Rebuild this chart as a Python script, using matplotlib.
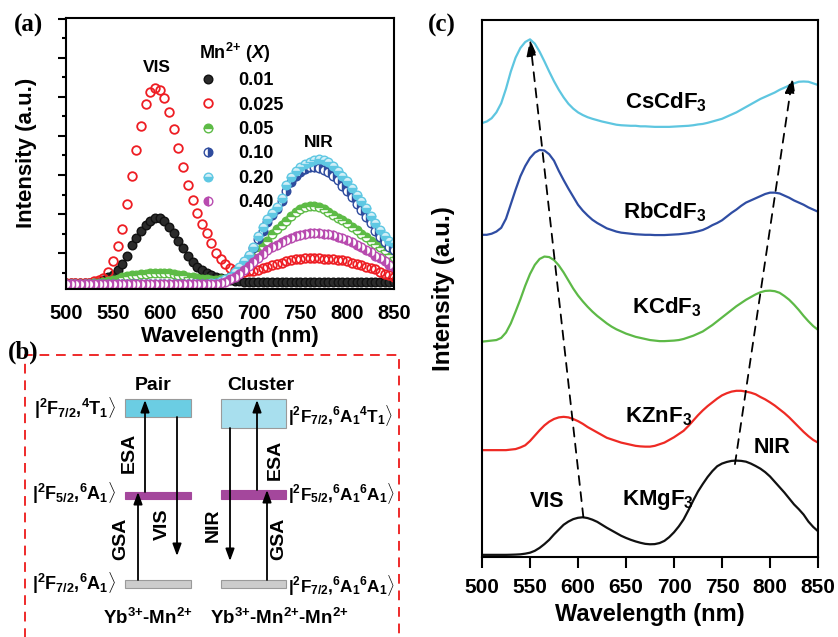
import numpy as np
import matplotlib
matplotlib.use("Agg")
import matplotlib.pyplot as plt
from matplotlib.patches import Rectangle
from matplotlib.ticker import MultipleLocator

plt.rcParams.update({
    "font.family": ["Liberation Sans", "DejaVu Sans"],
    "font.weight": "bold",
    "mathtext.fontset": "custom",
    "mathtext.rm": "Liberation Sans:bold",
    "mathtext.it": "Liberation Sans:italic:bold",
    "mathtext.bf": "Liberation Sans:bold",
    "mathtext.default": "rm",
    "axes.linewidth": 1.5,
})

# ---------------- data: panel (a), Mn2+ concentration series ----------------
wavelength = np.arange(500, 851, 5)

mn_labels = ["0.01", "0.025", "0.05", "0.10", "0.20", "0.40"]

int_001 = [0.23, 0.23, 0.23, 0.23, 0.23, 0.24,
           0.25, 0.27, 0.31, 0.38, 0.45, 0.58, 0.72, 0.93, 1.20, 1.39,
           1.57, 1.72, 1.83, 1.90, 1.91, 1.82, 1.68, 1.51, 1.31, 1.12,
           0.93, 0.77, 0.65, 0.57, 0.49, 0.43, 0.39, 0.36, 0.33, 0.31,
           0.29, 0.28, 0.27, 0.27, 0.27, 0.27, 0.27, 0.27, 0.27, 0.27,
           0.27, 0.27, 0.27, 0.27, 0.26, 0.27, 0.27, 0.27, 0.27, 0.27,
           0.27, 0.27, 0.27, 0.27, 0.26, 0.27, 0.27, 0.27, 0.27, 0.27,
           0.27, 0.27, 0.27, 0.27, 0.27]

int_0025 = [0.23, 0.23, 0.23, 0.23, 0.24, 0.25,
            0.28, 0.31, 0.36, 0.52, 0.80, 1.18, 1.62, 2.25, 2.97, 3.64,
            4.25, 4.82, 5.12, 5.22, 5.17, 4.97, 4.60, 4.17, 3.70, 3.20,
            2.75, 2.37, 2.02, 1.75, 1.52, 1.26, 1.00, 0.85, 0.72, 0.62,
            0.57, 0.55, 0.53, 0.54, 0.55, 0.57, 0.61, 0.65, 0.69, 0.72,
            0.76, 0.79, 0.82, 0.84, 0.86, 0.87, 0.87, 0.87, 0.87, 0.86,
            0.85, 0.84, 0.83, 0.82, 0.79, 0.76, 0.73, 0.69, 0.65, 0.62,
            0.59, 0.53, 0.47, 0.43, 0.40]

int_005 = [0.22, 0.22, 0.22, 0.22, 0.22, 0.22,
           0.23, 0.24, 0.26, 0.29, 0.32, 0.35, 0.38, 0.41, 0.43, 0.45,
           0.47, 0.48, 0.49, 0.50, 0.50, 0.50, 0.49, 0.47, 0.45, 0.43,
           0.40, 0.38, 0.36, 0.34, 0.33, 0.32, 0.32, 0.33, 0.35, 0.39,
           0.46, 0.55, 0.66, 0.78, 0.91, 1.05, 1.18, 1.32, 1.48, 1.62,
           1.73, 1.83, 1.95, 2.05, 2.12, 2.18, 2.21, 2.21, 2.18, 2.13,
           2.06, 1.98, 1.91, 1.84, 1.76, 1.67, 1.59, 1.50, 1.41, 1.32,
           1.23, 1.15, 1.07, 0.98, 0.91]

int_010 = [0.21, 0.21, 0.21, 0.21, 0.21, 0.21,
           0.21, 0.21, 0.21, 0.21, 0.21, 0.21, 0.21, 0.21, 0.21, 0.21,
           0.21, 0.21, 0.21, 0.21, 0.21, 0.21, 0.21, 0.21, 0.21, 0.21,
           0.21, 0.21, 0.21, 0.21, 0.21, 0.22, 0.24, 0.27, 0.32, 0.40,
           0.50, 0.62, 0.78, 0.94, 1.12, 1.36, 1.58, 1.80, 1.98, 2.14,
           2.34, 2.60, 2.82, 2.98, 3.08, 3.15, 3.20, 3.21, 3.19, 3.14,
           3.07, 2.97, 2.86, 2.73, 2.58, 2.43, 2.27, 2.10, 1.93, 1.76,
           1.58, 1.42, 1.28, 1.15, 1.08]

int_020 = [0.22, 0.22, 0.22, 0.22, 0.22, 0.22,
           0.22, 0.22, 0.22, 0.22, 0.22, 0.22, 0.22, 0.22, 0.22, 0.22,
           0.22, 0.22, 0.22, 0.22, 0.22, 0.22, 0.22, 0.22, 0.22, 0.22,
           0.22, 0.22, 0.22, 0.22, 0.22, 0.23, 0.25, 0.28, 0.33, 0.40,
           0.52, 0.64, 0.80, 0.96, 1.15, 1.43, 1.68, 1.88, 2.03, 2.18,
           2.42, 2.74, 2.96, 3.11, 3.20, 3.27, 3.33, 3.38, 3.40, 3.39,
           3.33, 3.23, 3.10, 2.98, 2.84, 2.67, 2.50, 2.34, 2.16, 1.95,
           1.76, 1.60, 1.44, 1.32, 1.25]

int_040 = [0.22, 0.22, 0.22, 0.22, 0.22, 0.22,
           0.22, 0.22, 0.22, 0.22, 0.22, 0.22, 0.22, 0.22, 0.22, 0.22,
           0.22, 0.22, 0.22, 0.22, 0.22, 0.22, 0.22, 0.22, 0.22, 0.22,
           0.22, 0.22, 0.22, 0.22, 0.22, 0.22, 0.22, 0.24, 0.27, 0.33,
           0.40, 0.48, 0.57, 0.67, 0.77, 0.87, 0.97, 1.07, 1.15, 1.22,
           1.29, 1.34, 1.39, 1.44, 1.47, 1.49, 1.51, 1.51, 1.51, 1.50,
           1.49, 1.46, 1.42, 1.38, 1.33, 1.28, 1.22, 1.15, 1.09, 1.02,
           0.94, 0.87, 0.79, 0.71, 0.65]

# ---------------- data: panel (c), host lattices (vertically offset) ----------------
host_labels = ["CsCdF$_3$", "RbCdF$_3$", "KCdF$_3$", "KZnF$_3$", "KMgF$_3$"]

cscdf3 = [80.8, 81.1, 81.7, 82.8, 84.5, 87.2,
          90.4, 93.0, 94.8, 95.9, 96.4, 95.6, 94.1, 92.3, 90.4, 88.6,
          87.0, 85.6, 84.4, 83.5, 82.8, 82.3, 81.9, 81.6, 81.35, 81.1,
          80.9, 80.7, 80.5, 80.4, 80.35, 80.3, 80.3, 80.2, 80.2, 80.15,
          80.1, 80.1, 80.1, 80.1, 80.15, 80.2, 80.25, 80.3, 80.4, 80.55,
          80.65, 80.85, 81.1, 81.35, 81.6, 82.0, 82.4, 82.8, 83.3, 83.8,
          84.3, 84.8, 85.3, 85.7, 86.1, 86.5, 87.0, 87.4, 87.8, 88.2,
          88.5, 88.55, 88.5, 88.2, 87.9]

rbcdf3 = [60.0, 60.0, 60.2, 60.6, 61.3, 63.0,
          65.7, 68.4, 70.9, 72.8, 74.3, 75.3, 75.8, 75.7, 75.0, 73.8,
          71.9, 70.2, 68.6, 67.1, 65.6, 64.5, 63.6, 62.8, 62.2, 61.7,
          61.2, 60.9, 60.6, 60.4, 60.3, 60.2, 60.1, 60.05, 60.0, 60.0,
          59.95, 59.95, 59.95, 60.0, 60.05, 60.1, 60.2, 60.3, 60.45, 60.65,
          60.9, 61.3, 61.8, 62.2, 62.7, 63.4, 64.1, 64.7, 65.4, 66.0,
          66.4, 66.8, 67.2, 67.6, 67.85, 67.85, 67.7, 67.3, 66.9, 66.4,
          66.0, 65.6, 65.1, 64.7, 64.3]

kcdf3 = [40.1, 40.2, 40.3, 40.4, 40.8, 41.8,
         43.5, 45.7, 48.0, 50.5, 52.7, 54.4, 55.5, 55.95, 55.85, 55.3,
         54.3, 53.0, 51.5, 50.0, 48.7, 47.6, 46.6, 45.7, 44.9, 44.2,
         43.5, 42.9, 42.4, 42.0, 41.6, 41.3, 41.0, 40.8, 40.6, 40.4,
         40.3, 40.2, 40.2, 40.25, 40.3, 40.4, 40.6, 40.9, 41.2, 41.6,
         42.0, 42.6, 43.2, 43.9, 44.6, 45.3, 46.0, 46.7, 47.3, 47.9,
         48.4, 48.9, 49.3, 49.55, 49.6, 49.5, 49.2, 48.6, 47.9, 47.0,
         46.0, 44.9, 43.9, 43.0, 42.3]

kznf3 = [19.9, 19.9, 19.9, 19.9, 19.9, 19.9,
         20.0, 20.1, 20.4, 20.8, 21.6, 22.6, 23.6, 24.5, 25.2, 25.7,
         26.0, 26.1, 26.0, 25.7, 25.3, 24.8, 24.2, 23.7, 23.2, 22.7,
         22.2, 21.9, 21.6, 21.3, 21.1, 20.9, 20.7, 20.6, 20.55, 20.55,
         20.7, 21.0, 21.3, 21.8, 22.3, 22.9, 23.5, 24.4, 25.4, 26.4,
         27.3, 28.1, 28.8, 29.5, 30.1, 30.5, 30.8, 30.95, 30.95, 30.8,
         30.6, 30.3, 29.8, 29.35, 28.8, 28.2, 27.5, 26.8, 26.0, 25.1,
         24.2, 23.3, 22.5, 21.8, 21.3]

kmgf3 = [0.4, 0.4, 0.4, 0.4, 0.4, 0.4,
         0.42, 0.45, 0.5, 0.62, 0.8, 1.15, 1.7, 2.4, 3.2, 4.2,
         5.1, 6.0, 6.6, 7.05, 7.3, 7.4, 7.25, 6.95, 6.55, 6.0,
         5.45, 4.95, 4.45, 3.95, 3.55, 3.2, 2.9, 2.65, 2.45, 2.37,
         2.4, 2.6, 3.0, 3.7, 4.6, 5.7, 7.0, 8.7, 10.5, 12.2,
         13.6, 14.9, 16.0, 16.9, 17.4, 17.7, 17.9, 17.95, 17.9, 17.75,
         17.4, 16.95, 16.45, 15.8, 15.0, 14.0, 13.0, 12.0, 10.9, 9.8,
         8.9, 7.9, 6.6, 5.6, 4.8]

# peak-shift guides (start -> tip), wavelength / offset intensity
vis_shift = [(605.6, 7.4), (550.0, 96.4)]
nir_shift = [(763.5, 17.3), (823.5, 89.4)]

# ---------------- figure ----------------
W, H = 838, 637
fig = plt.figure(figsize=(W / 100, H / 100), dpi=100)


def box(left, top, right, bottom):
    return [left / W, 1 - bottom / H, (right - left) / W, (bottom - top) / H]


# ---------------- panel (a) ----------------
ax_a = fig.add_axes(box(66, 18, 394, 288.5))
styles = [
    dict(mfc="#2b2b2b", mec="#111111", fillstyle="full"),
    dict(mfc="none", mec="#EE1D23", fillstyle="none", mew=1.3),
    dict(mfc="#5DBB46", mec="#5DBB46", mfcalt="white", fillstyle="top"),
    dict(mfc="#2F4C9E", mec="#2F4C9E", mfcalt="white", fillstyle="right"),
    dict(mfc="#5FC8E3", mec="#5FC8E3", mfcalt="#D3EFF7", fillstyle="bottom"),
    dict(mfc="#B84BAF", mec="#B84BAF", mfcalt="white", fillstyle="left"),
]
for vals, lab, st in zip([int_001, int_0025, int_005, int_010, int_020, int_040],
                         mn_labels, styles):
    ax_a.plot(wavelength, vals, linestyle="none", marker="o", ms=6.2, label=lab, **st)

ax_a.set_xlim(500, 850)
ax_a.set_ylim(0.097, 7.015)
ax_a.set_xticks(np.arange(500, 851, 50))
ax_a.yaxis.set_major_locator(MultipleLocator(1))
ax_a.yaxis.set_minor_locator(MultipleLocator(0.5))
ax_a.tick_params(axis="y", which="major", direction="out", length=6, width=1.5, labelleft=False)
ax_a.tick_params(axis="y", which="minor", direction="out", length=3, width=1.5)
ax_a.tick_params(axis="x", length=0, pad=11, labelsize=14.5)
ax_a.set_xlabel("Wavelength (nm)", fontsize=16, fontweight="bold")
ax_a.set_ylabel("Intensity (a.u.)", fontsize=16, fontweight="bold")
ax_a.xaxis.set_label_coords(0.5, -0.137)
ax_a.yaxis.set_label_coords(-0.088, 0.5)

ax_a.text(597, 5.64, "VIS", ha="center", va="baseline", fontsize=12.5)
ax_a.text(769.6, 3.72, "NIR", ha="center", va="baseline", fontsize=12.5)

leg = ax_a.legend(title=r"Mn$^{2{+}}$ ($\mathit{X}$)", loc="upper left",
                  bbox_to_anchor=(0.405, 0.916), frameon=False, fontsize=13,
                  title_fontsize=13, handlelength=1.0, handletextpad=1.2,
                  labelspacing=0.41, borderpad=0, borderaxespad=0,
                  alignment="left")

# ---------------- panel (c) ----------------
ax_c = fig.add_axes(box(482, 20, 818, 557))
host_colors = ["#5EC6E0", "#2F4DA3", "#5DB947", "#EE2A24", "#111111"]
for vals, col in zip([cscdf3, rbcdf3, kcdf3, kznf3, kmgf3], host_colors):
    ax_c.plot(wavelength, vals, color=col, lw=1.6)
ax_c.set_xlim(500, 850)
ax_c.set_ylim(0, 100)
ax_c.set_yticks([])
ax_c.set_xticks(np.arange(500, 851, 50))
ax_c.tick_params(axis="x", direction="out", length=8, width=1.5, pad=7, labelsize=15)
ax_c.set_xlabel("Wavelength (nm)", fontsize=17, fontweight="bold")
ax_c.set_ylabel("Intensity (a.u.)", fontsize=17.5, fontweight="bold")
ax_c.xaxis.set_label_coords(0.5, -0.085)
ax_c.yaxis.set_label_coords(-0.08, 0.5)

label_pos = [(649, 83.6), (647, 63.1), (656, 45.4), (649, 25.0), (645.5, 9.7)]
for lab, (x, y) in zip(host_labels, label_pos):
    ax_c.text(x, y, lab, ha="left", va="baseline", fontsize=16)
ax_c.text(568, 9.25, "VIS", ha="center", va="baseline", fontsize=15.5)
ax_c.text(802, 19.4, "NIR", ha="center", va="baseline", fontsize=15.5)

for (x0, y0), (x1, y1) in [vis_shift, nir_shift]:
    ax_c.annotate("", xy=(x1, y1), xytext=(x0, y0),
                  arrowprops=dict(arrowstyle="-|>,head_length=0.7,head_width=0.22",
                                  linestyle=(0, (5, 4)), lw=1.3, color="black",
                                  mutation_scale=14, shrinkA=0, shrinkB=0))

# ---------------- panel (b): energy-level scheme ----------------
ax_b = fig.add_axes([0, 0, 420 / W, (H - 340) / H])
ax_b.set_xlim(0, 420)
ax_b.set_ylim(637, 340)
ax_b.axis("off")

ax_b.plot([25, 25, 399, 399], [645, 355, 355, 645], color="#EE2A2A", lw=1.4,
          linestyle=(0, (5, 3.5)))

levels = [
    # (x0, x1, top, bottom, face, edge)
    (125, 191, 399, 417, "#6BCDE3", "#9A9A9A"),
    (221, 286, 399, 428, "#A8DFEE", "#9A9A9A"),
    (125, 191, 492, 499, "#A4479C", "#A4479C"),
    (221, 286, 490, 499, "#A4479C", "#A4479C"),
    (125, 191, 580, 588, "#CCCCCC", "#9A9A9A"),
    (221, 286, 580, 588, "#CCCCCC", "#9A9A9A"),
]
for x0, x1, t, b, fc, ec in levels:
    ax_b.add_patch(Rectangle((x0, t), x1 - x0, b - t, facecolor=fc, edgecolor=ec, lw=0.8))

transitions = [(138, 580, 492), (145, 492, 400), (177, 417, 556),
               (230, 428, 561), (257, 490, 400), (267, 580, 490)]
for x, y0, y1 in transitions:
    ax_b.annotate("", xy=(x, y1), xytext=(x, y0),
                  arrowprops=dict(arrowstyle="-|>,head_length=0.6,head_width=0.22",
                                  lw=1.3, color="black", mutation_scale=12,
                                  shrinkA=0, shrinkB=0))

ax_b.text(153, 385, "Pair", ha="center", va="center", fontsize=14)
ax_b.text(261, 385, "Cluster", ha="center", va="center", fontsize=14)

for txt, x, y in [("ESA", 129.5, 453), ("GSA", 121, 539), ("VIS", 162, 524),
                  ("NIR", 213, 525), ("ESA", 275, 460), ("GSA", 279, 539)]:
    ax_b.text(x, y, txt, rotation=90, ha="center", va="center", fontsize=14)

left_states = [r"$|^{2}F_{7/2}{,}{}^{4}T_{1}\rangle$",
               r"$|^{2}F_{5/2}{,}{}^{6}A_{1}\rangle$",
               r"$|^{2}F_{7/2}{,}{}^{6}A_{1}\rangle$"]
right_states = [r"$|^{2}F_{7/2}{,}{}^{6}A_{1}{}^{4}T_{1}\rangle$",
                r"$|^{2}F_{5/2}{,}{}^{6}A_{1}{}^{6}A_{1}\rangle$",
                r"$|^{2}F_{7/2}{,}{}^{6}A_{1}{}^{6}A_{1}\rangle$"]
for txt, y in zip(left_states, [408, 493, 583]):
    ax_b.text(116, y, txt, ha="right", va="center", fontsize=13)
for txt, y in zip(right_states, [415, 494, 586]):
    ax_b.text(288, y, txt, ha="left", va="center", fontsize=12.3)

ax_b.text(148, 618, r"Yb$^{3{+}}$-Mn$^{2{+}}$", ha="center", va="center", fontsize=13.5)
ax_b.text(279, 618, r"Yb$^{3{+}}$-Mn$^{2{+}}$-Mn$^{2{+}}$", ha="center", va="center",
          fontsize=13.5)

# ---------------- panel letters ----------------
for txt, x, y in [("(a)", 28, 25), ("(b)", 23, 352), ("(c)", 442, 25)]:
    fig.text(x / W, 1 - y / H, txt, ha="center", va="center",
             fontfamily="Liberation Serif", fontweight="bold", fontsize=18)

fig.savefig("out.png", dpi=100)
